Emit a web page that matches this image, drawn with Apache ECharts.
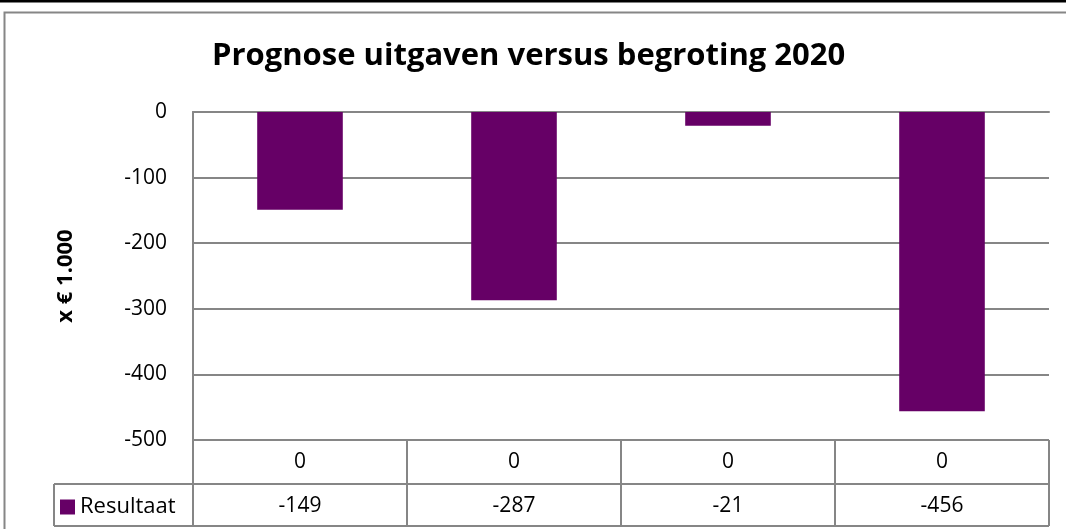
<!DOCTYPE html>
<html>
<head>
<meta charset="utf-8">
<script src="https://cdn.jsdelivr.net/npm/echarts@6/dist/echarts.min.js"></script>
<style>
  html, body { margin: 0; padding: 0; background: #fff; }
  #chart { width: 1066px; height: 529px; }
</style>
</head>
<body>
<div id="chart"></div>
<script>
// data
var categories = ['0', '0', '0', '0'];
var resultaat = [-149, -287, -21, -456];
var yTicks = { min: -500, max: 0, step: 100 };

var font = 'Open Sans';
var gray = '#868686';

// grid in pixels (plot area)
var gLeft = 193, gRight = 1049, gTop = 112, gBottom = 440;
var row1 = 484, row2 = 526, tableLeft = 54;

var dom = document.getElementById('chart');
var myChart = echarts.init(dom, null, { renderer: 'canvas' });

// table lines
var lines = [];
function hline(x1, x2, y) {
  lines.push({ type: 'line', silent: true, shape: { x1: x1, y1: y, x2: x2, y2: y }, style: { stroke: gray, lineWidth: 2 } });
}
function vline(x, y1, y2) {
  lines.push({ type: 'line', silent: true, shape: { x1: x, y1: y1, x2: x, y2: y2 }, style: { stroke: gray, lineWidth: 2 } });
}
hline(tableLeft, gRight, row1);
hline(tableLeft, gRight, row2);
vline(tableLeft, row1, row2);
var cw = (gRight - gLeft) / categories.length;
for (var i = 0; i <= categories.length; i++) {
  vline(gLeft + cw * i, gBottom, row2);
}
// outer frame + top black line
lines.push({ type: 'rect', silent: true, shape: { x: 4.5, y: 12.5, width: 1100, height: 600 }, style: { fill: null, stroke: gray, lineWidth: 2 } });
lines.push({ type: 'line', silent: true, shape: { x1: 0, y1: 1, x2: 1066, y2: 1 }, style: { stroke: '#000', lineWidth: 3 } });

var option = {
  animation: false,
  title: {
    text: 'Prognose uitgaven versus begroting 2020',
    left: 207,
    top: 36,
    textStyle: { fontFamily: font, fontSize: 31, fontWeight: 'bold', color: '#000' }
  },
  legend: {
    data: ['Resultaat'],
    left: 60,
    top: 496,
    padding: 0,
    icon: 'rect',
    itemWidth: 15,
    itemHeight: 15,
    textStyle: { fontFamily: font, fontSize: 22, color: '#000' }
  },
  grid: {
    left: gLeft,
    right: 1066 - gRight,
    top: gTop,
    bottom: 529 - gBottom
  },
  xAxis: [
    {
      type: 'category',
      data: categories,
      position: 'bottom',
      axisLine: { show: true, lineStyle: { color: gray, width: 2 } },
      axisTick: { show: false },
      axisLabel: { margin: 12, fontFamily: font, fontSize: 21, color: '#000' }
    },
    {
      type: 'category',
      data: resultaat.map(String),
      position: 'bottom',
      offset: 44,
      axisLine: { show: false },
      axisTick: { show: false },
      axisLabel: { margin: 12, fontFamily: font, fontSize: 21, color: '#000' }
    }
  ],
  yAxis: {
    type: 'value',
    min: yTicks.min,
    max: yTicks.max,
    interval: yTicks.step,
    name: 'x € 1.000',
    nameLocation: 'middle',
    nameGap: 116,
    nameTextStyle: { fontFamily: font, fontSize: 22, fontWeight: 'bold', color: '#000' },
    axisLine: { show: true, lineStyle: { color: gray, width: 2 } },
    axisTick: { show: false },
    axisLabel: { margin: 26, fontFamily: font, fontSize: 21, color: '#000' },
    splitLine: { lineStyle: { color: gray, width: 2 } }
  },
  graphic: lines,
  series: [
    {
      name: 'Resultaat',
      type: 'bar',
      xAxisIndex: 0,
      barWidth: '40%',
      itemStyle: { color: '#660066' },
      data: resultaat
    }
  ]
};

myChart.setOption(option);
window.addEventListener('resize', myChart.resize);
</script>
</body>
</html>
